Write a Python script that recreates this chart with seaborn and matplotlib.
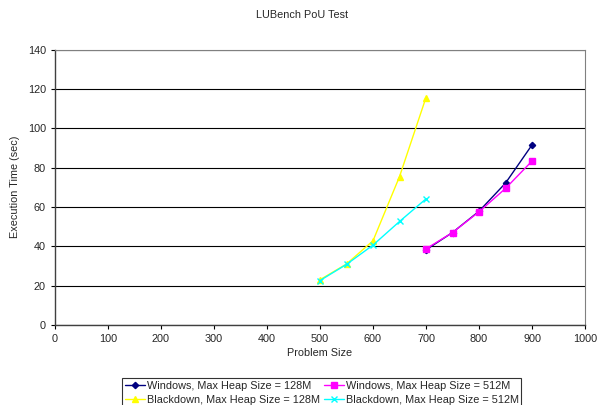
import matplotlib
matplotlib.use("Agg")
import matplotlib.pyplot as plt
import seaborn as sns
import pandas as pd

sns.set_style("white")
plt.rcParams['font.family'] = ['Liberation Sans', 'DejaVu Sans']

title = "LUBench PoU Test"
xlabel = "Problem Size"
ylabel = "Execution Time (sec)"

win_x = [700, 750, 800, 850, 900]
win128 = [38.2, 47.0, 57.8, 72.1, 91.5]
win512 = [38.7, 47.0, 57.5, 69.4, 83.3]
bd_x = [500, 550, 600, 650, 700]
bd128 = [23.0, 31.0, 42.8, 75.4, 115.6]
bd512 = [22.6, 30.8, 40.6, 52.6, 64.1]

names = ["Windows, Max Heap Size = 128M", "Windows, Max Heap Size = 512M",
         "Blackdown, Max Heap Size = 128M", "Blackdown, Max Heap Size = 512M"]

series = [
    (names[0], win_x, win128, "#000080", "D", 3.2),
    (names[1], win_x, win512, "#FF00FF", "s", 4),
    (names[2], bd_x, bd128, "#FFFF00", "^", 4),
    (names[3], bd_x, bd512, "#00FFFF", "x", 4),
]

FS = 7.8
fig = plt.figure(figsize=(6.05, 4.05), dpi=100)
ax = fig.add_axes([55/605, 1-325/405, (585-55)/605, (325-49.5)/405])

for name, xs, ys, col, mk, ms in series:
    df = pd.DataFrame({"x": xs, "y": ys})
    sns.lineplot(data=df, x="x", y="y", ax=ax, color=col, marker=mk,
                 markersize=ms, linewidth=1, markeredgecolor=col,
                 markeredgewidth=1, label=name, legend=False)

ax.set_xlim(0, 1000)
ax.set_ylim(0, 140)
ax.set_xticks(range(0, 1001, 100))
ax.set_yticks(range(0, 141, 20))
ax.tick_params(labelsize=FS, length=3, direction="out", width=0.8, color="black",
               bottom=True, left=True)
ax.yaxis.grid(True, color="black", linewidth=0.8)
ax.set_axisbelow(True)
for side in ["top", "right"]:
    ax.spines[side].set_color("#808080")
    ax.spines[side].set_linewidth(0.8)
for side in ["left", "bottom"]:
    ax.spines[side].set_color("#404040")
    ax.spines[side].set_linewidth(1)

ax.set_xlabel(xlabel, fontsize=FS, labelpad=3)
ax.set_ylabel(ylabel, fontsize=FS, labelpad=6)
fig.text(0.5, 1-15/405, title, ha="center", va="center", fontsize=FS)

handles, labels = ax.get_legend_handles_labels()
order = [0, 2, 1, 3]
leg = fig.legend([handles[i] for i in order], [labels[i] for i in order],
                 loc="lower center", bbox_to_anchor=(0.532, -0.012), ncol=2,
                 fontsize=FS, frameon=True, fancybox=False, edgecolor="black",
                 borderpad=0.25, labelspacing=0.35, handlelength=1.8,
                 handletextpad=0.2, columnspacing=0.4, borderaxespad=0.2)
leg.get_frame().set_linewidth(0.8)

fig.savefig("out.png", dpi=100)
